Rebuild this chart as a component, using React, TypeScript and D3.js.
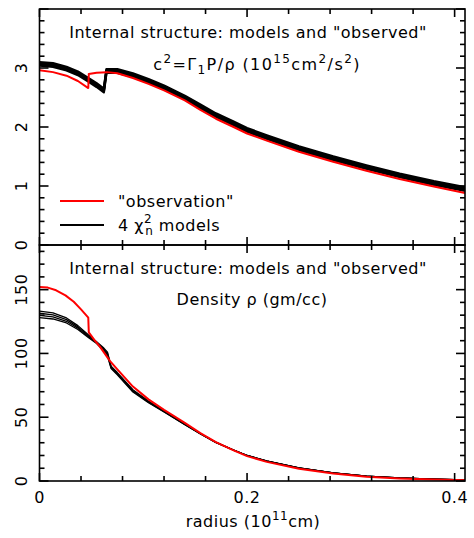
import * as d3 from "d3";

// axis labels
const radiusLabels = [0, 0.2, 0.4];
const c2Labels = [0, 1, 2, 3];
const rhoLabels = [0, 50, 100, 150];

// sound speed squared, "observation" (radius, c2)
const obsC2: [number, number][] = [
  [0, 2.96], [0.013, 2.93], [0.026, 2.87], [0.037, 2.78], [0.047, 2.66],
  [0.0475, 2.9], [0.055, 2.92], [0.065, 2.93], [0.075, 2.91], [0.09, 2.83],
  [0.105, 2.73], [0.12, 2.62], [0.14, 2.45], [0.155, 2.29], [0.17, 2.14],
  [0.187, 2.0], [0.2, 1.89], [0.219, 1.77], [0.25, 1.58], [0.283, 1.41],
  [0.315, 1.26], [0.347, 1.12], [0.38, 0.99], [0.41, 0.88],
];

// radius grid of the 4 chi2 models, c2 panel
const modelR = [
  0, 0.013, 0.026, 0.037, 0.047, 0.055, 0.062, 0.0645, 0.075, 0.09, 0.105, 0.12,
  0.14, 0.155, 0.17, 0.187, 0.2, 0.219, 0.25, 0.283, 0.315, 0.347, 0.38, 0.41,
];
const modelC2A = [3.1, 3.08, 3.02, 2.94, 2.83, 2.74, 2.65, 2.98, 2.98, 2.91, 2.81, 2.7, 2.53, 2.38, 2.23, 2.09, 1.98, 1.86, 1.67, 1.5, 1.35, 1.21, 1.08, 0.98];
const modelC2B = [3.08, 3.06, 3.0, 2.92, 2.81, 2.72, 2.63, 2.96, 2.96, 2.89, 2.79, 2.68, 2.51, 2.36, 2.21, 2.07, 1.96, 1.84, 1.65, 1.48, 1.33, 1.19, 1.06, 0.96];
const modelC2C = [3.06, 3.04, 2.98, 2.9, 2.79, 2.7, 2.61, 2.94, 2.94, 2.87, 2.77, 2.66, 2.49, 2.34, 2.19, 2.05, 1.94, 1.82, 1.63, 1.46, 1.31, 1.17, 1.04, 0.94];
const modelC2D = [3.04, 3.02, 2.96, 2.88, 2.77, 2.68, 2.59, 2.92, 2.92, 2.85, 2.75, 2.64, 2.47, 2.32, 2.17, 2.03, 1.92, 1.8, 1.61, 1.44, 1.29, 1.15, 1.02, 0.92];

// density, "observation" (radius, rho)
const obsRho: [number, number][] = [
  [0, 152], [0.008, 151.6], [0.016, 149.5], [0.025, 145.5], [0.033, 140.5], [0.04, 134.5], [0.047, 128],
  [0.0475, 116.5], [0.053, 110.5], [0.058, 105.5], [0.068, 94], [0.075, 87.5],
  [0.09, 74], [0.105, 64], [0.12, 55.8], [0.14, 45.6], [0.155, 37.5], [0.17, 30.5],
  [0.187, 24], [0.2, 19.5], [0.219, 15], [0.25, 9.6], [0.283, 5.8], [0.315, 3.3],
  [0.347, 2.0], [0.38, 1.2], [0.41, 0.6],
];

// radius grid of the 4 chi2 models, density panel
const densR = [
  0, 0.013, 0.026, 0.037, 0.047, 0.055, 0.062, 0.0655, 0.069, 0.075, 0.09, 0.105,
  0.12, 0.14, 0.155, 0.17, 0.187, 0.2, 0.219, 0.25, 0.283, 0.315, 0.347, 0.38, 0.41,
];
const modelRhoA = [133.2, 131.8, 127.8, 121.8, 114.6, 109.2, 104.2, 101.0, 90.0, 85.0, 71.5, 62.6, 55.0, 44.8, 37.2, 30.4, 24.3, 20.1, 15.7, 10.3, 6.4, 3.9, 2.4, 1.5, 0.9];
const modelRhoB = [131.5, 130.2, 126.5, 120.8, 114.0, 108.8, 103.4, 100.0, 89.4, 84.4, 70.9, 62.2, 54.7, 44.6, 37.1, 30.3, 24.3, 20.0, 15.6, 10.2, 6.4, 3.9, 2.4, 1.5, 0.9];
const modelRhoC = [129.8, 128.6, 125.2, 119.8, 113.3, 108.3, 102.6, 99.0, 88.8, 83.8, 70.3, 61.8, 54.4, 44.4, 37.0, 30.2, 24.2, 20.0, 15.6, 10.2, 6.3, 3.9, 2.4, 1.5, 0.9];
const modelRhoD = [128.1, 127.0, 123.9, 118.8, 112.6, 107.8, 101.8, 98.0, 88.2, 83.2, 69.7, 61.4, 54.1, 44.2, 36.9, 30.1, 24.2, 19.9, 15.5, 10.1, 6.3, 3.8, 2.3, 1.4, 0.8];

const W = 474;
const H = 538;
const left = 39.5;
const right = 465;
const top1 = 9;
const mid = 245;
const bot2 = 481;
const font = "DejaVu Sans, sans-serif";
const fs = 16;
const sup = 12;
const ls = 0.5;

const x = d3.scaleLinear().domain([0, 0.41]).range([left, right]);
const yC2 = d3.scaleLinear().domain([0, 4]).range([mid, top1]);
const yRho = d3.scaleLinear().domain([0, 185]).range([bot2, mid]);

type Scale = d3.ScaleLinear<number, number>;

function Frame({ y, minor, major, labels }: { y: Scale; minor: number; major: number; labels: number[] }) {
  const [y0, y1] = y.range();
  const [d0, d1] = y.domain();
  const yt = d3.range(d0, d1 + 1e-9, minor);
  const xt = d3.range(0, 0.41, 0.04);
  const isMajorY = (v: number) => Math.abs(v / major - Math.round(v / major)) < 1e-6;
  const isMajorX = (v: number) => Math.abs(v / 0.2 - Math.round(v / 0.2)) < 1e-6;
  return (
    <g stroke="#000" strokeWidth={1.6} fill="none">
      <rect x={left} y={y1} width={right - left} height={y0 - y1} />
      {yt.map((v, i) => {
        const len = isMajorY(v) ? 9 : 5;
        return (
          <g key={"y" + i}>
            <line x1={left} x2={left + len} y1={y(v)} y2={y(v)} />
            <line x1={right} x2={right - len} y1={y(v)} y2={y(v)} />
          </g>
        );
      })}
      {xt.map((v, i) => {
        const len = isMajorX(v) ? 8 : 5;
        return (
          <g key={"x" + i}>
            <line x1={x(v)} x2={x(v)} y1={y0} y2={y0 - len} />
            <line x1={x(v)} x2={x(v)} y1={y1} y2={y1 + len} />
          </g>
        );
      })}
      {labels.map((v) => (
        <text
          key={"l" + v}
          transform={`translate(27,${y(v)}) rotate(-90)`}
          textAnchor="middle"
          fontFamily={font}
          fontSize={fs}
          letterSpacing={ls}
          fill="#000"
          stroke="none"
        >
          {v}
        </text>
      ))}
    </g>
  );
}

export default function App() {
  const lineC2 = d3.line<[number, number]>().x((d) => x(d[0])).y((d) => yC2(d[1]));
  const lineRho = d3.line<[number, number]>().x((d) => x(d[0])).y((d) => yRho(d[1]));
  const modelsC2 = [modelC2A, modelC2B, modelC2C, modelC2D].map((m) =>
    m.map((v, i) => [modelR[i], v] as [number, number])
  );
  const modelsRho = [modelRhoA, modelRhoB, modelRhoC, modelRhoD].map((m) =>
    m.map((v, i) => [densR[i], v] as [number, number])
  );

  return (
    <svg width={W} height={H} style={{ position: "absolute", left: 0, top: 0, background: "#fff" }}>
      <defs>
        <clipPath id="c1">
          <rect x={left} y={top1} width={right - left} height={mid - top1} />
        </clipPath>
        <clipPath id="c2">
          <rect x={left} y={mid} width={right - left} height={bot2 - mid} />
        </clipPath>
      </defs>

      {/* top panel: c^2 */}
      <g clipPath="url(#c1)" fill="none" strokeLinejoin="round">
        {modelsC2.map((m, i) => (
          <path key={i} d={lineC2(m) ?? ""} stroke="#000" strokeWidth={2.4} />
        ))}
        <path d={lineC2(obsC2) ?? ""} stroke="#ff0000" strokeWidth={2} />
      </g>
      <Frame y={yC2} minor={0.2} major={1} labels={c2Labels} />

      <g fontFamily={font} fontSize={fs} letterSpacing={ls} fill="#000" textAnchor="middle">
        <text x={248} y={38}>Internal structure: models and "observed"</text>
        <text x={257} y={70} letterSpacing={1.4}>
          c<tspan dy={-7} fontSize={sup}>2</tspan>
          <tspan dy={7}>=Γ</tspan>
          <tspan dy={4} fontSize={sup}>1</tspan>
          <tspan dy={-4}>P/ρ (10</tspan>
          <tspan dy={-7} fontSize={sup}>15</tspan>
          <tspan dy={7}>cm</tspan>
          <tspan dy={-7} fontSize={sup}>2</tspan>
          <tspan dy={7}>/s</tspan>
          <tspan dy={-7} fontSize={sup}>2</tspan>
          <tspan dy={7}>)</tspan>
        </text>
      </g>

      {/* legend */}
      <line x1={60} x2={104} y1={201} y2={201} stroke="#ff0000" strokeWidth={2} />
      <line x1={60} x2={104} y1={225} y2={225} stroke="#000" strokeWidth={2} />
      <g fontFamily={font} fontSize={fs} letterSpacing={ls} fill="#000">
        <text x={118} y={207}>"observation"</text>
        <text x={118} y={231}>
          4 χ
          <tspan dy={-8} fontSize={sup}>2</tspan>
          <tspan dx={-7} dy={12} fontSize={sup}>n</tspan>
          <tspan dy={-4}> models</tspan>
        </text>
      </g>

      {/* bottom panel: density */}
      <g clipPath="url(#c2)" fill="none" strokeLinejoin="round">
        {modelsRho.map((m, i) => (
          <path key={i} d={lineRho(m) ?? ""} stroke="#000" strokeWidth={1.3} />
        ))}
        <path d={lineRho(obsRho) ?? ""} stroke="#ff0000" strokeWidth={2} />
      </g>
      <Frame y={yRho} minor={10} major={50} labels={rhoLabels} />

      <g fontFamily={font} fontSize={fs} letterSpacing={ls} fill="#000" textAnchor="middle">
        <text x={248} y={274}>Internal structure: models and "observed"</text>
        <text x={252} y={305}>Density ρ (gm/cc)</text>
        {radiusLabels.map((v) => (
          <text key={v} x={x(v)} y={503}>
            {v}
          </text>
        ))}
        <text x={253} y={527}>
          radius (10<tspan dy={-7} fontSize={sup}>11</tspan>
          <tspan dy={7}>cm)</tspan>
        </text>
      </g>
    </svg>
  );
}
